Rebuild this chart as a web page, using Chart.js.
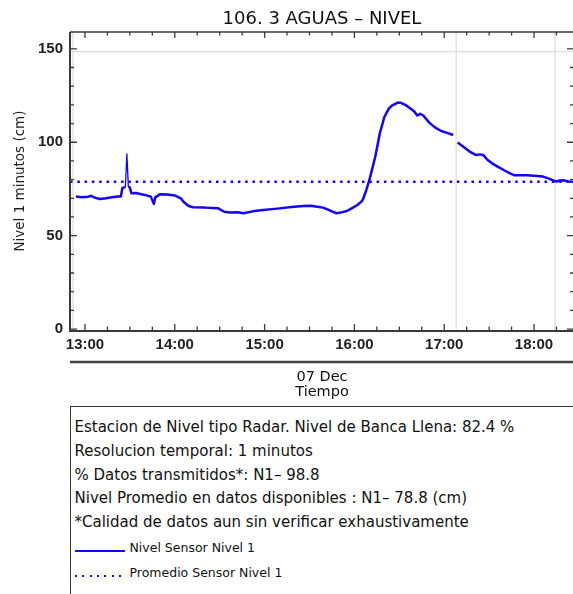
<!DOCTYPE html>
<html>
<head>
<meta charset="utf-8">
<script src="https://cdn.jsdelivr.net/npm/chart.js@4.4.1/dist/chart.umd.min.js"></script>
<style>
  body { margin: 0; background: #fff; overflow: hidden; width: 573px; height: 594px; position: relative; }
  #grafico { position: absolute; left: 0; top: 0; }
  #caja {
    position: absolute; left: 70px; top: 406px; width: 540px; height: 220px;
    border: 1.5px solid #333; box-sizing: border-box; padding: 9px 0 0 3.5px;
    font-family: "DejaVu Sans", sans-serif; color: #111;
  }
  .linea { font-size: 15px; line-height: 23.75px; white-space: nowrap; }
  .leyenda { font-size: 12.5px; line-height: 25px; white-space: nowrap; }
  .muestra { display: inline-block; width: 50px; height: 2px; margin-right: 5px; position: relative; vertical-align: middle; }
  .solida { background: #1400ff; top: 3px; }
  .punteada { background: repeating-linear-gradient(to right, #1400ff 0 2px, transparent 2px 7.3px); top: 3px; }
</style>
</head>
<body>
<canvas id="grafico" width="600" height="400" style="width:600px;height:400px"></canvas>
<div id="caja"></div>
<script>
// datos
const horas = ['12:54','12:58','13:02','13:04','13:07','13:10','13:14','13:18','13:22','13:24',
  '13:25','13:27','13:28','13:29','13:30','13:31','13:34','13:37','13:40','13:44',
  '13:46','13:47','13:50','13:55','14:00','14:04','14:06','14:09','14:12','14:20',
  '14:29','14:33','14:37','14:42','14:46','14:52','14:59','15:05','15:10','15:18',
  '15:26','15:31','15:35','15:39','15:42','15:45','15:48','15:52','15:55','15:59',
  '16:02','16:05','16:06','16:08','16:10','16:12','16:14','16:17','16:20','16:23',
  '16:25','16:29','16:31','16:34','16:37','16:40','16:42','16:44','16:46','16:50',
  '16:54','16:58','17:02','17:06','17:07','17:09','17:13','17:17','17:21','17:24',
  '17:26','17:29','17:32','17:36','17:40','17:44','17:47','17:50','17:55','18:00',
  '18:06','18:10','18:12','18:15','18:17','18:20','18:23','18:27'];
const nivel = [70.9, 70.5, 70.8, 71.3, 70.2, 69.6, 70.0, 70.5, 70.9, 71.0,
  75.5, 76.0, 93.7, 76.0, 75.8, 72.7, 72.8, 72.3, 71.8, 70.9,
  67.0, 70.5, 72.1, 72.0, 71.5, 70.0, 68.0, 66.0, 65.2, 65.0,
  64.6, 62.8, 62.4, 62.5, 62.0, 63.0, 63.7, 64.2, 64.6, 65.3,
  65.9, 66.0, 65.5, 65.0, 64.1, 63.0, 62.0, 62.6, 63.2, 65.0,
  66.4, 68.5, 70.0, 74.5, 79.8, 86.0, 92.5, 104.8, 113.5, 118.0,
  119.6, 121.2, 121.1, 120.0, 118.3, 116.5, 114.3, 115.2, 114.3, 110.5,
  107.8, 106.0, 105.0, 103.9, null, 99.8, 97.5, 95.0, 93.2, 93.5,
  93.2, 90.5, 88.7, 86.8, 85.0, 83.3, 82.3, 82.3, 82.3, 82.0,
  81.6, 80.5, 79.8, 78.9, 79.5, 79.6, 79.0, 78.9];
const horaPico = '13:28';
const promedio = 78.8;
const series = ['Nivel Sensor Nivel 1', 'Promedio Sensor Nivel 1'];
const horasEtiquetas = ['13:00','14:00','15:00','16:00','17:00','18:00'];
const nivelEtiquetas = [0, 50, 100, 150];
const lineasGrises = ['12:52', '17:08', '18:14'];
const nivelGris = 148.5;
const notas = [
  'Estacion de Nivel tipo Radar. Nivel de Banca Llena: 82.4 %',
  'Resolucion temporal: 1 minutos',
  '% Datos transmitidos*: N1\u2013 98.8',
  'Nivel Promedio en datos disponibles : N1\u2013 78.8 (cm)',
  '*Calidad de datos aun sin verificar exhaustivamente'
];

const xMin = -10, xMax = 326.7;
const yMin = -0.5, yMax = 159;
const azul = '#1400ff';

function aMinutos(h) {
  const p = h.split(':').map(Number);
  return (p[0] - 13) * 60 + p[1];
}

// caja de notas y leyenda
const caja = document.getElementById('caja');
notas.forEach(t => {
  const d = document.createElement('div');
  d.className = 'linea';
  d.textContent = t;
  caja.appendChild(d);
});
series.forEach((s, i) => {
  const d = document.createElement('div');
  d.className = 'leyenda';
  const m = document.createElement('span');
  m.className = 'muestra ' + (i === 0 ? 'solida' : 'punteada');
  const t = document.createElement('span');
  t.textContent = s;
  d.appendChild(m);
  d.appendChild(t);
  caja.appendChild(d);
});

// marco, ticks internos y lineas grises
const marcoEjes = {
  id: 'marcoEjes',
  beforeDatasetsDraw(chart) {
    const {ctx, chartArea: a, scales: {x, y}} = chart;
    ctx.save();
    ctx.strokeStyle = '#dcdcdc';
    ctx.lineWidth = 1.2;
    ctx.beginPath();
    lineasGrises.forEach(h => {
      const px = x.getPixelForValue(aMinutos(h));
      ctx.moveTo(px, a.top); ctx.lineTo(px, a.bottom);
    });
    const py = y.getPixelForValue(nivelGris);
    ctx.moveTo(a.left, py); ctx.lineTo(a.right, py);
    ctx.stroke();
    ctx.restore();
  },
  afterDatasetsDraw(chart) {
    const {ctx, chartArea: a, scales: {x, y}} = chart;
    ctx.save();
    ctx.strokeStyle = '#3a3a3a';
    // ejes
    ctx.lineWidth = 2;
    ctx.beginPath();
    ctx.moveTo(a.left, a.top); ctx.lineTo(a.left, a.bottom + 1); ctx.lineTo(a.right, a.bottom + 1);
    ctx.stroke();
    ctx.lineWidth = 1.5;
    ctx.beginPath();
    ctx.moveTo(a.left, a.top); ctx.lineTo(a.right, a.top); ctx.lineTo(a.right, a.bottom);
    ctx.stroke();
    // ticks
    ctx.lineWidth = 1.3;
    ctx.beginPath();
    for (let m = 0; m <= xMax; m += 15) {
      const px = x.getPixelForValue(m);
      const l = m % 60 === 0 ? 6 : 3.5;
      ctx.moveTo(px, a.bottom); ctx.lineTo(px, a.bottom - l);
      ctx.moveTo(px, a.top); ctx.lineTo(px, a.top + l);
    }
    for (let v = 0; v <= 150; v += 10) {
      const py = y.getPixelForValue(v);
      const l = v % 50 === 0 ? 7 : 4;
      ctx.moveTo(a.left, py); ctx.lineTo(a.left + l, py);
      ctx.moveTo(a.right, py); ctx.lineTo(a.right - l, py);
    }
    ctx.stroke();
    // linea gruesa bajo las etiquetas
    ctx.lineWidth = 2.5;
    ctx.strokeStyle = '#444';
    ctx.beginPath();
    ctx.moveTo(a.left, 362); ctx.lineTo(chart.width, 362);
    ctx.stroke();
    ctx.restore();
  }
};

const ctx = document.getElementById('grafico').getContext('2d');
new Chart(ctx, {
  type: 'line',
  data: {
    datasets: [{
      label: series[0],
      data: horas.map((h, i) => ({x: aMinutos(h), y: nivel[i]})),
      borderColor: azul,
      borderWidth: 2.5,
      borderJoinStyle: 'round',
      pointRadius: 0,
      tension: 0,
      spanGaps: false,
      segment: {
        borderWidth: c => (horas[c.p0DataIndex] === horaPico || horas[c.p1DataIndex] === horaPico) ? 1.3 : undefined
      }
    }, {
      label: series[1],
      data: [{x: xMin, y: promedio}, {x: xMax, y: promedio}],
      borderColor: azul,
      borderWidth: 2.5,
      borderDash: [2.5, 4.8],
      pointRadius: 0
    }]
  },
  options: {
    responsive: false,
    animation: false,
    layout: { padding: { left: 0, right: 26, top: 0, bottom: 0 } },
    plugins: {
      legend: { display: false },
      tooltip: { enabled: false },
      title: {
        display: true,
        fullSize: false,
        text: '106. 3 AGUAS \u2013 NIVEL',
        color: '#111',
        font: { family: 'DejaVu Sans', size: 18, weight: 'normal' },
        padding: { top: 9, bottom: 1.4 }
      }
    },
    scales: {
      x: {
        type: 'linear',
        min: xMin,
        max: xMax,
        afterFit: s => { s.height = 70; },
        afterBuildTicks: s => { s.ticks = horasEtiquetas.map(h => ({value: aMinutos(h)})); },
        grid: { display: false, drawTicks: false },
        border: { display: false },
        ticks: {
          autoSkip: false,
          maxRotation: 0,
          padding: 6,
          color: '#222',
          font: { family: 'Liberation Sans', size: 15, weight: 'bold' },
          callback: (v, i) => horasEtiquetas[i]
        },
        title: {
          display: true,
          text: ['07 Dec', 'Tiempo'],
          color: '#111',
          font: { family: 'DejaVu Sans', size: 14.5, lineHeight: 1.06 },
          padding: { top: 0, bottom: 0 }
        }
      },
      y: {
        min: yMin,
        max: yMax,
        afterFit: s => { s.width = 70; },
        afterBuildTicks: s => { s.ticks = nivelEtiquetas.map(v => ({value: v})); },
        grid: { display: false, drawTicks: false },
        border: { display: false },
        ticks: {
          padding: 7,
          color: '#222',
          font: { family: 'Liberation Sans', size: 15, weight: 'bold' }
        },
        title: {
          display: true,
          text: 'Nivel 1 minutos (cm)',
          color: '#222',
          font: { family: 'DejaVu Sans', size: 13.5 },
          padding: { top: 12, bottom: 0 }
        }
      }
    }
  },
  plugins: [marcoEjes]
});
</script>
</body>
</html>
